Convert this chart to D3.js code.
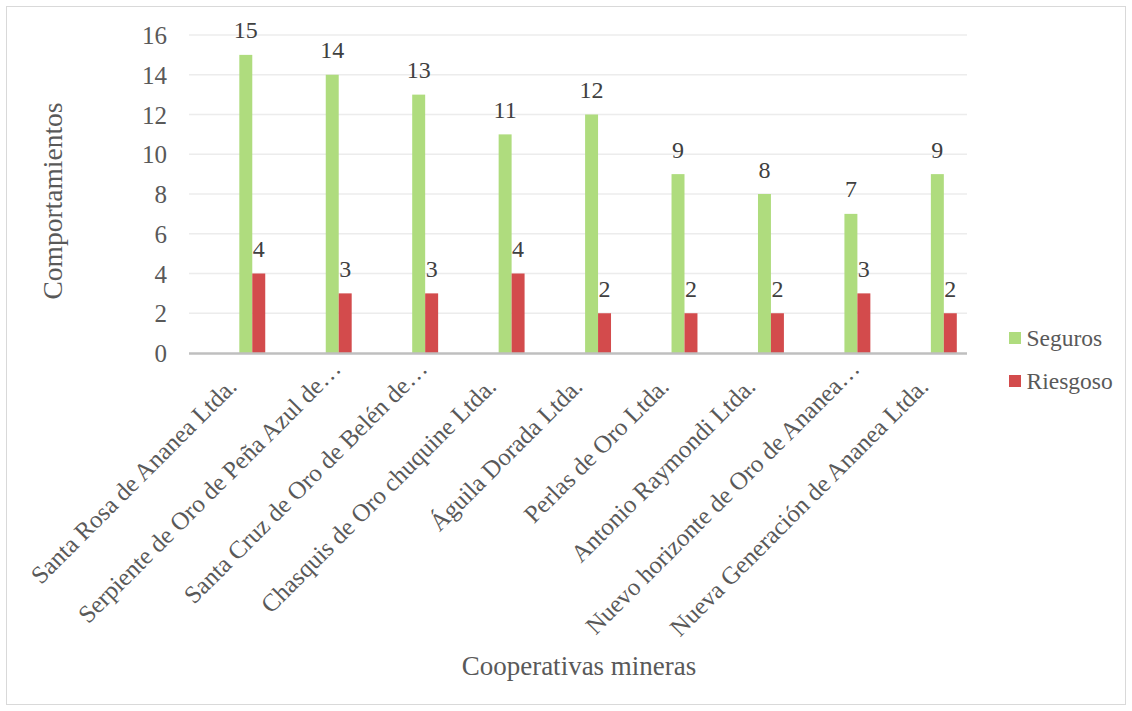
<!DOCTYPE html>
<html>
<head>
<meta charset="utf-8">
<script src="https://cdn.jsdelivr.net/npm/d3@7"></script>
<style>
  html, body { margin: 0; padding: 0; background: #fff; }
  svg { display: block; }
  svg text { font-family: "Liberation Serif", "Tinos", "Times New Roman", "DejaVu Serif", serif; }
</style>
</head>
<body>
<svg id="chart" width="1132" height="711"></svg>
<script>
// Cooperatives and their counts of safe / risky behaviours
const categories = [
  "Santa Rosa de Ananea Ltda.",
  "Serpiente de Oro de Peña Azul de…",
  "Santa Cruz de Oro de Belén de…",
  "Chasquis de Oro chuquine Ltda.",
  "Águila Dorada Ltda.",
  "Perlas de Oro Ltda.",
  "Antonio Raymondi Ltda.",
  "Nuevo horizonte de Oro de Ananea…",
  "Nueva Generación de Ananea Ltda."
];
const seriesNames = ["Seguros", "Riesgoso"];
const seguros  = [15, 14, 13, 11, 12, 9, 8, 7, 9];
const riesgoso = [4, 3, 3, 4, 2, 2, 2, 3, 2];
const yTicks = [0, 2, 4, 6, 8, 10, 12, 14, 16];

const colors = { "Seguros": "#afdc7e", "Riesgoso": "#d34b4c" };
const textColor = "#595959";

const svg = d3.select("#chart");
const W = 1132, H = 711;

// outer chart frame
svg.append("rect")
  .attr("x", 6.5).attr("y", 6.5)
  .attr("width", W - 13).attr("height", H - 13)
  .attr("fill", "#fff").attr("stroke", "#d9d9d9").attr("stroke-width", 1);

const plot = { left: 189, right: 967, top: 35, bottom: 353 };

const x0 = d3.scaleBand().domain(categories).range([plot.left, plot.right]).padding(0);
const bw = x0.bandwidth();
// the pair of bars sits slightly right of each category centre
const x1 = d3.scaleBand().domain(seriesNames).range([bw * 0.582, bw * 0.882]).padding(0);
const y = d3.scaleLinear().domain([0, 16]).range([plot.bottom, plot.top]);

// horizontal gridlines
svg.append("g")
  .selectAll("line")
  .data(yTicks.filter(d => d > 0))
  .join("line")
  .attr("x1", plot.left).attr("x2", plot.right)
  .attr("y1", d => y(d)).attr("y2", d => y(d))
  .attr("stroke", "#ececec").attr("stroke-width", 1.3);

// y axis labels
const yAxis = d3.axisLeft(y).tickValues(yTicks).tickSize(0).tickPadding(0);
const gy = svg.append("g").attr("transform", `translate(${plot.left - 22},0)`).call(yAxis);
gy.attr("font-family", null);
gy.select(".domain").remove();
gy.selectAll("text")
  .attr("fill", textColor)
  .attr("font-size", "25px")
  .attr("dy", "0.34em");

const rows = categories.map((c, i) => ({ cat: c, values: [
  { name: "Seguros", value: seguros[i] },
  { name: "Riesgoso", value: riesgoso[i] }
]}));

const groups = svg.append("g").selectAll("g")
  .data(rows).join("g")
  .attr("transform", d => `translate(${x0(d.cat)},0)`);

groups.selectAll("rect")
  .data(d => d.values).join("rect")
  .attr("x", d => x1(d.name))
  .attr("width", x1.bandwidth())
  .attr("y", d => y(d.value))
  .attr("height", d => y(0) - y(d.value))
  .attr("fill", d => colors[d.name]);

groups.selectAll("text")
  .data(d => d.values).join("text")
  .attr("x", d => x1(d.name) + x1.bandwidth() / 2)
  .attr("y", d => y(d.value) - 16.5)
  .attr("text-anchor", "middle")
  .attr("fill", "#404040")
  .attr("font-size", "24px")
  .text(d => d.value);

// category axis line
svg.append("line")
  .attr("x1", plot.left).attr("x2", plot.right)
  .attr("y1", plot.bottom + 0.5).attr("y2", plot.bottom + 0.5)
  .attr("stroke", "#bfbfbf").attr("stroke-width", 2.5);

// rotated category labels; truncated names sit a little further along their slant
const xAxis = d3.axisBottom(x0).tickSize(0).tickPadding(0);
const gx = svg.append("g").attr("transform", `translate(0,${plot.bottom})`).call(xAxis);
gx.attr("font-family", null);
gx.select(".domain").remove();
gx.selectAll(".tick text")
  .attr("fill", textColor)
  .attr("font-size", "24.8px")
  .attr("text-anchor", "end")
  .attr("x", 0).attr("y", 0).attr("dy", 0)
  .attr("dx", d => d.endsWith("…") ? 25 : 0)
  .attr("transform", "translate(6,35) rotate(-45)");

// axis titles
svg.append("text")
  .attr("x", 579).attr("y", 675)
  .attr("text-anchor", "middle")
  .attr("fill", textColor)
  .attr("font-size", "27px")
  .text("Cooperativas mineras");

svg.append("text")
  .attr("transform", "translate(62,201) rotate(-90)")
  .attr("text-anchor", "middle")
  .attr("fill", textColor)
  .attr("font-size", "27.5px")
  .text("Comportamientos");

// legend
const legend = svg.append("g").selectAll("g")
  .data(seriesNames).join("g")
  .attr("transform", (d, i) => `translate(1009,${332 + i * 43})`);
legend.append("rect")
  .attr("width", 12).attr("height", 12)
  .attr("fill", d => colors[d]);
legend.append("text")
  .attr("x", 17.5).attr("y", 13.5)
  .attr("fill", textColor)
  .attr("font-size", "23.5px")
  .text(d => d);
</script>
</body>
</html>
